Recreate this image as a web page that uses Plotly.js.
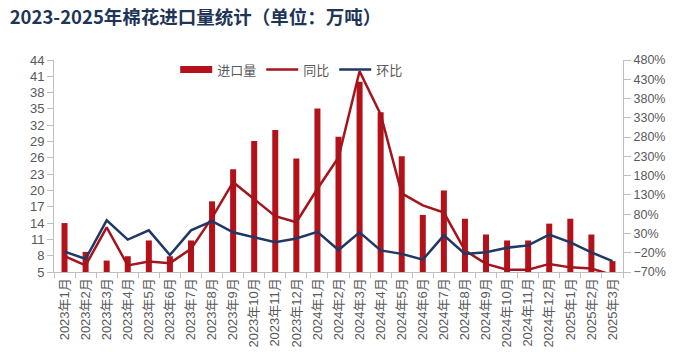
<!DOCTYPE html>
<html>
<head>
<meta charset="utf-8">
<script src="https://cdn.plot.ly/plotly-3.0.1.min.js"></script>
<style>
html,body{margin:0;padding:0;background:#fff;}
#chart{width:689px;height:363px;}
</style>
</head>
<body>
<div id="chart"></div>
<script>
var months = ["2023年1月","2023年2月","2023年3月","2023年4月","2023年5月","2023年6月","2023年7月","2023年8月","2023年9月","2023年10月","2023年11月","2023年12月",
"2024年1月","2024年2月","2024年3月","2024年4月","2024年5月","2024年6月","2024年7月","2024年8月","2024年9月","2024年10月","2024年11月","2024年12月",
"2025年1月","2025年2月","2025年3月"];
var importVol = [14, 8.7, 7.1, 7.9, 10.8, 7.9, 10.8, 18.0, 23.9, 29.1, 31.1, 25.9, 35.1, 29.9, 40.0, 34.4, 26.3, 15.5, 20.0, 14.8, 11.9, 10.8, 10.8, 13.9, 14.8, 11.9, 7.0];
var yoy = [-29, -53, 46, -53, -43, -47, -10, 71, 163, 118, 75, 59, 146, 227, 451, 339, 134, 103, 84, -14, -49, -64, -64, -49, -58, -61, -78];
var mom = [-17, -36, 64, 14, 38, -26, 38, 62, 33, 20, 7, 17, 34, -13, 33, -14, -23, -38, 25, -23, -19, -7, -1, 27, 7, -19, -42];

var barColor = "#b3121b";
var yoyColor = "#a3141c";
var momColor = "#1f3864";
var txt = "#595959";
var axc = "#bfbfbf";
var fam = "Liberation Sans, Arial, Noto Sans CJK SC, sans-serif";

var traces = [
  {type:"bar", x:months, y:importVol, name:"进口量", marker:{color:barColor}, showlegend:false, hoverinfo:"x+y"},
  {type:"scatter", mode:"lines", x:[null], y:[null], name:"进口量", line:{color:barColor, width:7}, hoverinfo:"skip"},
  {type:"scatter", mode:"lines", x:months, y:yoy, name:"同比", yaxis:"y2", line:{color:yoyColor, width:2.5}},
  {type:"scatter", mode:"lines", x:months, y:mom, name:"环比", yaxis:"y2", line:{color:momColor, width:2.5}}
];

var layout = {
  width:689, height:363,
  margin:{l:54, r:66, t:60, b:91, pad:0},
  paper_bgcolor:"#fff", plot_bgcolor:"#fff",
  font:{family:fam, color:txt, size:13},
  title:{text:"2023-2025年棉花进口量统计（单位：万吨）", x:0.014, xanchor:"left", y:0.953, yanchor:"middle",
         font:{family:"Noto Sans CJK SC, sans-serif", size:18.5, color:"#1f3557", weight:"bold"}},
  bargap:0.715,
  showlegend:true,
  legend:{orientation:"h", x:0.213, xanchor:"left", y:0.955, yanchor:"middle", bgcolor:"rgba(0,0,0,0)",
          font:{family:"Noto Sans CJK SC, sans-serif", size:13, color:txt}, itemwidth:32, traceorder:"normal"},
  xaxis:{type:"category", tickson:"boundaries", ticks:"outside", ticklen:5, tickcolor:axc, showline:true, linecolor:axc, linewidth:1,
         tickangle:-90, tickfont:{size:13, color:txt, family:fam}, showgrid:false, zeroline:false, fixedrange:true},
  yaxis:{range:[5,44], tick0:5, dtick:3, ticks:"outside", ticklen:6, tickcolor:axc, showline:true, linecolor:axc,
         showgrid:false, zeroline:false, tickfont:{size:13, color:txt, family:fam}},
  yaxis2:{range:[-70,480], tick0:-70, dtick:50, ticksuffix:"%", overlaying:"y", side:"right", ticks:"outside", ticklen:7,
          tickcolor:axc, showline:true, linecolor:axc, showgrid:false, zeroline:false, tickfont:{size:12.5, color:txt, family:fam}}
};

Plotly.newPlot("chart", traces, layout, {displayModeBar:false, staticPlot:true});
</script>
</body>
</html>
